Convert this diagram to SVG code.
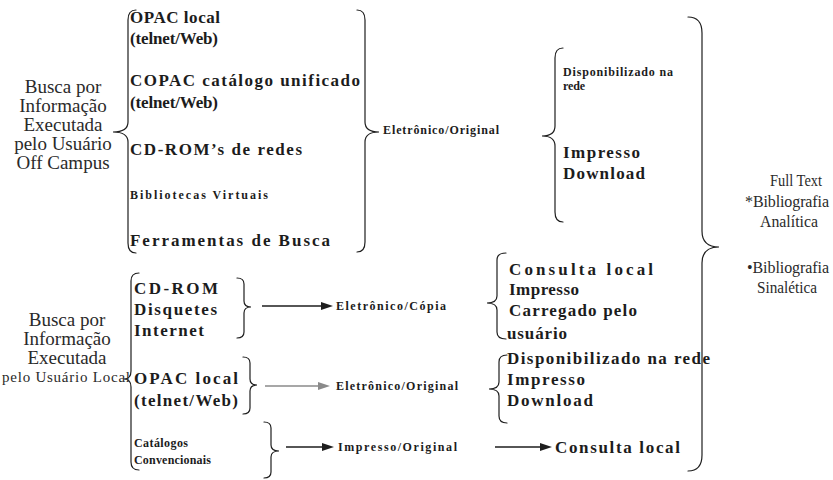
<svg xmlns="http://www.w3.org/2000/svg" width="833" height="480" viewBox="0 0 833 480">
<style>
text{font-family:"Liberation Serif","Times New Roman",serif;fill:#1c1c1c}
.lb{font-size:19px;text-anchor:middle;fill:#2a2a2a}
.b{font-size:17px;font-weight:bold}
.s{font-size:12px;font-weight:bold}
.r{font-size:17px;fill:#2a2a2a}
.r16{font-size:16px;fill:#2a2a2a}
.br{fill:none;stroke:#1e1e1e;stroke-width:1.2;stroke-linecap:round}
.ar{stroke:#1e1e1e;stroke-width:1.3}
.ag{stroke:#8a8a8a;stroke-width:1.3}
</style>
<defs>
<marker id="ah" markerUnits="userSpaceOnUse" markerWidth="12" markerHeight="8" refX="0" refY="4" orient="auto"><path d="M0,0 L12,4 L0,8 Z" fill="#1e1e1e"/></marker>
<marker id="ahg" markerUnits="userSpaceOnUse" markerWidth="12" markerHeight="8" refX="0" refY="4" orient="auto"><path d="M0,0 L12,4 L0,8 Z" fill="#8a8a8a"/></marker>
</defs>

<g id="connectors">
<!-- top group braces -->
<path class="br" d="M136,10 Q128,10 128,20 V122 Q128,132 113,132 Q128,132 128,142 V243 Q128,253 136,253"/>
<path class="br" d="M357,10 Q365,10 365,20 V122 Q365,132 379,132 Q365,132 365,142 V242 Q365,252 357,252"/>
<path class="br" d="M563,48 Q555,48 555,58 V126 Q555,136 542,136 Q555,136 555,146 V212 Q555,222 563,222"/>
<path class="br" d="M688,17 Q702,17 702,33 V231 Q702,247 719,247 Q702,247 702,263 V455 Q702,471 688,471"/>
<!-- bottom group braces -->
<path class="br" d="M139,273 Q131,273 131,281 V371 Q131,379 124,379 Q131,379 131,387 V462 Q131,470 139,470"/>
<path class="br" d="M237,278 Q244,278 244,284 V301 Q244,307 251,307 Q244,307 244,313 V332 Q244,338 237,338"/>
<path class="br" d="M243,357 Q250,357 250,363 V379 Q250,385 257,385 Q250,385 250,391 V408 Q250,414 243,414"/>
<path class="br" d="M264,422 Q271,422 271,428 V445 Q271,451 279,451 Q271,451 271,457 V472 Q271,478 264,478"/>
<path class="br" d="M506,253 Q497,253 497,260 V296 Q497,303 487,303 Q497,303 497,310 V332 Q497,339 506,339"/>
<path class="br" d="M507,355 Q499,355 499,362 V382 Q499,389 489,389 Q499,389 499,396 V416 Q499,423 507,423"/>
<!-- arrows -->
<line class="ar" x1="262" y1="306" x2="321" y2="306" marker-end="url(#ah)"/>
<line class="ag" x1="265" y1="386" x2="318" y2="386" marker-end="url(#ahg)"/>
<line class="ar" x1="286" y1="447" x2="322" y2="447" marker-end="url(#ah)"/>
<line class="ar" x1="495" y1="447" x2="540" y2="447" marker-end="url(#ah)"/>
</g>

<g id="offcampus-label">
<text class="lb" x="63" y="93">Busca por</text>
<text class="lb" x="63" y="112">Informação</text>
<text class="lb" x="63" y="131">Executada</text>
<text class="lb" x="63" y="150">pelo Usuário</text>
<text class="lb" x="63" y="169">Off Campus</text>
</g>

<g id="offcampus-sources">
<text class="b" x="130" y="23" textLength="90" lengthAdjust="spacing">OPAC local</text>
<text class="b" x="130" y="44" textLength="88" lengthAdjust="spacing">(telnet/Web)</text>
<text class="b" x="130" y="86" textLength="230" lengthAdjust="spacing">COPAC catálogo unificado</text>
<text class="b" x="130" y="108" textLength="88" lengthAdjust="spacing">(telnet/Web)</text>
<text class="b" x="130" y="155" textLength="172" lengthAdjust="spacing">CD-ROM’s de redes</text>
<text class="s" x="130" y="199" textLength="138" lengthAdjust="spacing">Bibliotecas Virtuais</text>
<text class="b" x="130" y="246" textLength="200" lengthAdjust="spacing">Ferramentas de Busca</text>
</g>

<g id="offcampus-format">
<text class="s" x="383" y="134" textLength="116" lengthAdjust="spacing">Eletrônico/Original</text>
</g>

<g id="offcampus-access">
<text class="s" x="563" y="76" textLength="110" lengthAdjust="spacing">Disponibilizado na</text>
<text class="s" x="563" y="90" textLength="22" lengthAdjust="spacing">rede</text>
<text class="b" x="563" y="158" textLength="77" lengthAdjust="spacing">Impresso</text>
<text class="b" x="563" y="179" textLength="82" lengthAdjust="spacing">Download</text>
</g>

<g id="result">
<text class="r" x="770" y="186" textLength="52" lengthAdjust="spacingAndGlyphs">Full Text</text>
<text class="r16" x="745" y="207" textLength="84" lengthAdjust="spacing">*Bibliografia</text>
<text class="r" x="760" y="227" textLength="58" lengthAdjust="spacingAndGlyphs">Analítica</text>
<text class="r16" x="747" y="273" textLength="82" lengthAdjust="spacing">•Bibliografia</text>
<text class="r" x="757" y="293" textLength="60" lengthAdjust="spacingAndGlyphs">Sinalética</text>
</g>

<g id="local-label">
<text class="lb" x="67" y="326">Busca por</text>
<text class="lb" x="67" y="345">Informação</text>
<text class="lb" x="67" y="364">Executada</text>
<text x="2" y="382" style="font-size:15px;fill:#2a2a2a" textLength="128" lengthAdjust="spacing">pelo Usuário Local</text>
</g>

<g id="local-media">
<text class="b" x="134" y="294" textLength="84" lengthAdjust="spacing">CD-ROM</text>
<text class="b" x="134" y="315" textLength="83" lengthAdjust="spacing">Disquetes</text>
<text class="b" x="134" y="336" textLength="70" lengthAdjust="spacing">Internet</text>
</g>

<g id="local-opac">
<text class="b" x="134" y="384" textLength="104" lengthAdjust="spacing">OPAC local</text>
<text class="b" x="134" y="406" textLength="104" lengthAdjust="spacing">(telnet/Web)</text>
</g>

<g id="local-catalogos">
<text class="s" x="134" y="447" textLength="54" lengthAdjust="spacing">Catálogos</text>
<text class="s" x="134" y="464" textLength="77" lengthAdjust="spacing">Convencionais</text>
</g>

<g id="fmt-copia">
<text class="s" x="336" y="310" textLength="110" lengthAdjust="spacing">Eletrônico/Cópia</text>
</g>
<g id="fmt-original">
<text class="s" x="336" y="390" textLength="122" lengthAdjust="spacing">Eletrônico/Original</text>
</g>
<g id="fmt-impresso">
<text class="s" x="338" y="451" textLength="119" lengthAdjust="spacing">Impresso/Original</text>
</g>

<g id="acc-copia">
<text class="b" x="509" y="275" textLength="144" lengthAdjust="spacing">Consulta local</text>
<text class="b" x="509" y="295" textLength="70" lengthAdjust="spacing">Impresso</text>
<text class="b" x="509" y="316" textLength="128" lengthAdjust="spacing">Carregado pelo</text>
<text class="b" x="507" y="339" textLength="60" lengthAdjust="spacing">usuário</text>
</g>
<g id="acc-original">
<text class="b" x="507" y="364" textLength="203" lengthAdjust="spacing">Disponibilizado na rede</text>
<text class="b" x="507" y="385" textLength="78" lengthAdjust="spacing">Impresso</text>
<text class="b" x="507" y="406" textLength="86" lengthAdjust="spacing">Download</text>
</g>
<g id="acc-impresso">
<text class="b" x="555" y="453" textLength="125" lengthAdjust="spacing">Consulta local</text>
</g>
</svg>
